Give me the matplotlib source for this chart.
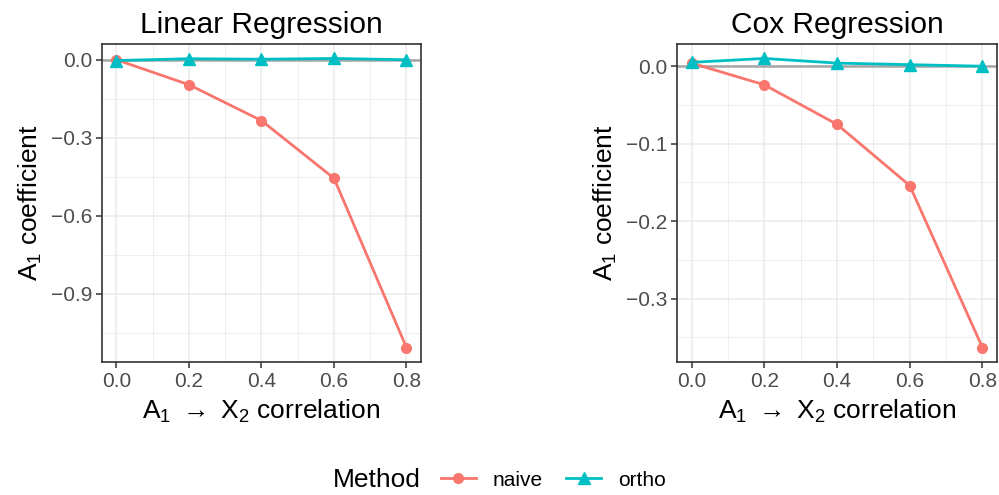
import matplotlib
matplotlib.use("Agg")
import matplotlib.pyplot as plt
from matplotlib.lines import Line2D
from matplotlib.offsetbox import HPacker
import numpy as np

plt.rcParams['font.family'] = ['Liberation Sans', 'DejaVu Sans']
plt.rcParams['mathtext.fontset'] = 'custom'
plt.rcParams['mathtext.rm'] = 'Liberation Sans'
plt.rcParams['mathtext.it'] = 'Liberation Sans'

correlation = [0.0, 0.2, 0.4, 0.6, 0.8]
linear_naive = [0.0, -0.096, -0.234, -0.456, -1.107]
linear_ortho = [-0.003, 0.004, 0.002, 0.005, 0.0]
cox_naive = [0.004, -0.024, -0.075, -0.154, -0.363]
cox_ortho = [0.005, 0.010, 0.004, 0.002, 0.0]

titles = ["Linear Regression", "Cox Regression"]
yticks_list = [[0.0, -0.3, -0.6, -0.9], [0.0, -0.1, -0.2, -0.3]]
xticks = [0.0, 0.2, 0.4, 0.6, 0.8]

NAIVE = '#F8766D'
ORTHO = '#00BFC4'

fig = plt.figure(figsize=(9.99, 4.95), dpi=100)
axes_pos = [[0.1021, 0.2687, 0.3193, 0.6424], [0.6777, 0.2687, 0.3203, 0.6424]]
data = [(linear_naive, linear_ortho), (cox_naive, cox_ortho)]

for i in range(2):
    ax = fig.add_axes(axes_pos[i])
    naive, ortho = data[i]
    yt = yticks_list[i]
    allv = np.array(naive + ortho)
    lo, hi = allv.min(), allv.max()
    pad = 0.05 * (hi - lo)
    ax.set_ylim(lo - pad, hi + pad)
    ax.set_xlim(-0.04, 0.84)
    ystep = yt[0] - yt[1]
    for v in correlation:
        ax.axvline(v, color='#EBEBEB', lw=1.1, zorder=0)
    for v in np.arange(0.1, 0.8, 0.2):
        ax.axvline(v, color='#EBEBEB', lw=0.55, zorder=0)
    for v in yt:
        ax.axhline(v, color='#EBEBEB', lw=1.1, zorder=0)
    for k in range(-1, len(yt)):
        ax.axhline(yt[0] - ystep * (k + 0.5), color='#EBEBEB', lw=0.55, zorder=0)
    ax.axhline(0, color='#A6A6A6', lw=1.8, zorder=1)
    ax.plot(correlation, naive, color=NAIVE, lw=2.0, marker='o', ms=7, zorder=3)
    ax.plot(correlation, ortho, color=ORTHO, lw=2.0, marker='^', ms=8, zorder=4)
    ax.set_xticks(xticks)
    ax.set_xticklabels([f"{x:.1f}" for x in xticks])
    ax.set_yticks(yt)
    ax.set_yticklabels([f"{y:.1f}".replace('-', '\u2212') for y in yt])
    ax.tick_params(axis='both', labelsize=15, labelcolor='#4D4D4D', color='#333333',
                   length=4, width=1.1, pad=3)
    for s in ax.spines.values():
        s.set_color('#333333')
        s.set_linewidth(1.2)
    ax.set_title(titles[i], fontsize=21.5, pad=8)
    ax.set_ylabel(r"A$_1$ coefficient", fontsize=19, labelpad=5)
    ax.set_xlabel(r"A$_1$ $\rightarrow$ X$_2$ correlation", fontsize=19, labelpad=5)

handles = [Line2D([], [], color=NAIVE, lw=2.0, marker='o', ms=7),
           Line2D([], [], color=ORTHO, lw=2.0, marker='^', ms=8)]
fig.legend(handles, ['naive', 'ortho'], title='Method', loc='center',
           bbox_to_anchor=(0.5, 0.03), ncol=2, frameon=False, fontsize=15,
           title_fontsize=19, handlelength=1.7, columnspacing=1.1, handletextpad=0.8)
leg = fig.legends[0]
lb = leg._legend_box
lb.__class__ = HPacker
lb.sep = 14
lb.align = 'center'

fig.savefig('out.png', dpi=100)
